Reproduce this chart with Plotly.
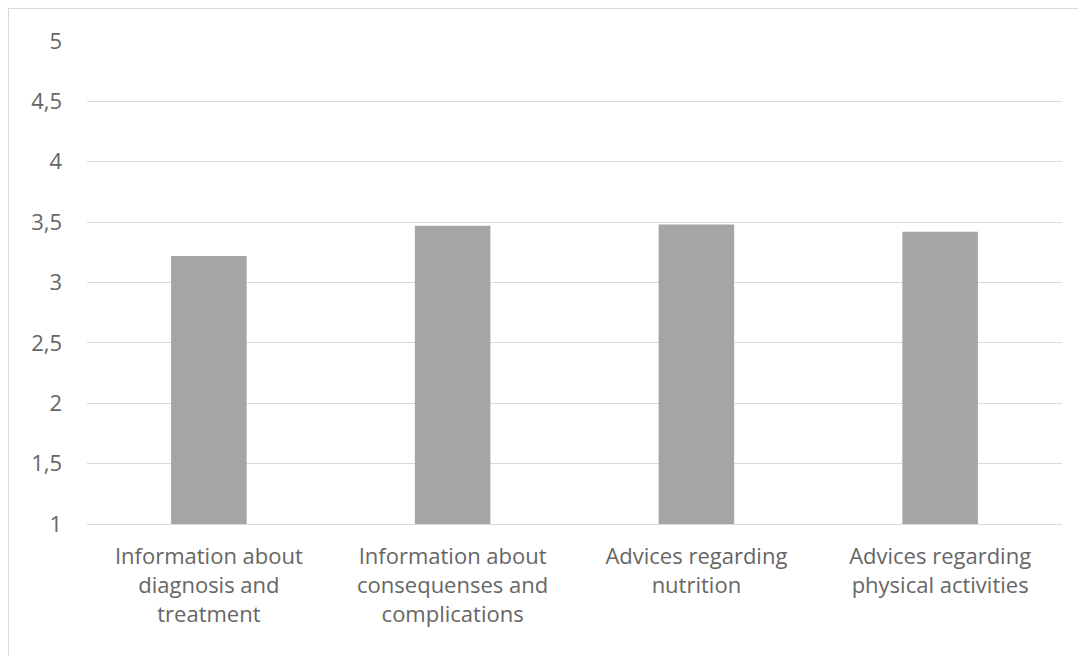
import plotly.graph_objects as go

categories = [
    "Information about<br>diagnosis and<br>treatment",
    "Information about<br>consequenses and<br>complications",
    "Advices regarding<br>nutrition",
    "Advices regarding<br>physical activities",
]
values = [3.22, 3.47, 3.48, 3.42]
y_ticks = [1, 1.5, 2, 2.5, 3, 3.5, 4, 4.5, 5]
base_value = 1

fig = go.Figure(
    go.Bar(
        x=categories,
        y=[v - base_value for v in values],
        base=base_value,
        marker=dict(color="#A5A5A5", line=dict(width=0)),
        width=0.31,
    )
)

L, R, T, B = 79, 32, 33, 140
W, H = 1086, 656
pw, ph = W - L - R, H - T - B

fig.update_layout(
    width=W,
    height=H,
    margin=dict(l=L, r=R, t=T, b=B),
    paper_bgcolor="white",
    plot_bgcolor="white",
    separators=",.",
    showlegend=False,
    font=dict(family="Open Sans", size=22, color="#666666"),
)
fig.update_xaxes(
    showgrid=False,
    showline=True,
    linecolor="#D9D9D9",
    linewidth=1,
    ticks="",
    ticklabelstandoff=13,
    tickfont=dict(size=22, color="#666666"),
)
fig.update_yaxes(
    range=[1, 5],
    tickvals=y_ticks,
    showgrid=True,
    gridcolor="#D9D9D9",
    gridwidth=1,
    zeroline=False,
    showline=False,
    ticks="",
    ticklabelstandoff=24,
    tickfont=dict(size=22, color="#666666"),
)
# outer chart border (only top and left visible)
fig.add_shape(type="line", xref="paper", yref="paper",
              x0=-L / pw, x1=1 + R / pw, y0=1 + T / ph, y1=1 + T / ph,
              line=dict(color="#D9D9D9", width=2))
fig.add_shape(type="line", xref="paper", yref="paper",
              x0=-L / pw, x1=-L / pw, y0=1 + T / ph, y1=-B / ph,
              line=dict(color="#D9D9D9", width=2))

fig.write_html("out.html")
